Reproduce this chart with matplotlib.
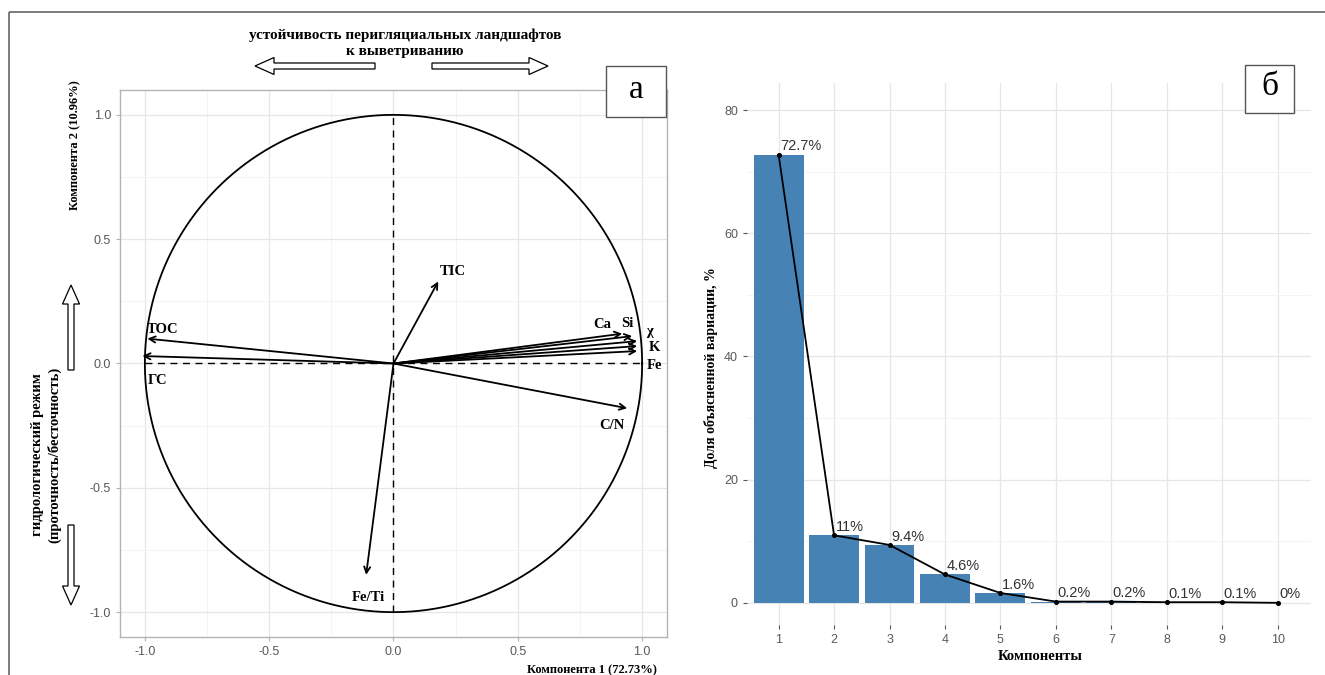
import matplotlib
matplotlib.use("Agg")
import matplotlib.pyplot as plt
import numpy as np
from matplotlib.patches import FancyArrow, Rectangle

# PCA loadings (component 1, component 2)
variables = ["TOC", "ГС", "TIC", "Fe/Ti", "C/N", "Ca", "Si", "χ", "K", "Fe"]
pc1 = [-0.99, -1.01, 0.18, -0.11, 0.94, 0.92, 0.96, 0.98, 0.98, 0.98]
pc2 = [0.10, 0.03, 0.33, -0.85, -0.18, 0.12, 0.11, 0.09, 0.07, 0.05]

# scree data
components = [1, 2, 3, 4, 5, 6, 7, 8, 9, 10]
explained = [72.73, 10.96, 9.4, 4.6, 1.6, 0.2, 0.2, 0.1, 0.1, 0.0]
explained_labels = ["72.7%", "11%", "9.4%", "4.6%", "1.6%", "0.2%", "0.2%", "0.1%", "0.1%", "0%"]

# label offsets from the arrow tips (styling only)
label_offset = {"TOC": (0.06, 0.035), "ГС": (0.06, -0.10), "TIC": (0.06, 0.04),
                "Fe/Ti": (0.01, -0.09), "C/N": (-0.06, -0.07), "Ca": (-0.08, 0.035),
                "Si": (-0.02, 0.05), "χ": (0.05, 0.04), "K": (0.07, -0.005), "Fe": (0.07, -0.06)}

W, H = 1325, 675
fig = plt.figure(figsize=(W / 100, H / 100), dpi=100)

serif = "Liberation Serif"
sans = "Liberation Sans"
tick_col = "#595959"
grid_major = "#E6E6E6"
grid_minor = "#F2F2F2"


def px(l, t, r, b):
    return [l / W, 1 - b / H, (r - l) / W, (b - t) / H]


# ---- panel a: correlation circle ----
ax1 = fig.add_axes(px(120, 90, 667, 637))
ax1.set_xlim(-1.1, 1.1)
ax1.set_ylim(-1.1, 1.1)
ax1.set_aspect("equal", adjustable="box")
ticks = [-1.0, -0.5, 0.0, 0.5, 1.0]
ax1.set_xticks(ticks)
ax1.set_yticks(ticks)
ax1.set_xticks([-0.75, -0.25, 0.25, 0.75], minor=True)
ax1.set_yticks([-0.75, -0.25, 0.25, 0.75], minor=True)
ax1.set_xticklabels(["-1.0", "-0.5", "0.0", "0.5", "1.0"])
ax1.set_yticklabels(["-1.0", "-0.5", "0.0", "0.5", "1.0"])
ax1.grid(which="major", color=grid_major, lw=0.9)
ax1.grid(which="minor", color=grid_minor, lw=0.6)
ax1.set_axisbelow(True)
for s in ax1.spines.values():
    s.set_color("#B3B3B3")
    s.set_linewidth(1)
ax1.tick_params(which="major", length=3, color="#B3B3B3", labelsize=9, labelcolor=tick_col)
ax1.tick_params(which="minor", length=0)
for lab in ax1.get_xticklabels() + ax1.get_yticklabels():
    lab.set_fontfamily(sans)

t = np.linspace(0, 2 * np.pi, 400)
ax1.plot(np.cos(t), np.sin(t), color="black", lw=1.3)
ax1.plot([-1, 1], [0, 0], color="black", lw=1, ls=(0, (5, 4)))
ax1.plot([0, 0], [-1, 1], color="black", lw=1, ls=(0, (5, 4)))

for name, x, y in zip(variables, pc1, pc2):
    ax1.annotate("", xy=(x, y), xytext=(0, 0),
                 arrowprops=dict(arrowstyle="->", color="black", lw=1.3,
                                 shrinkA=0, shrinkB=0, mutation_scale=11))
    dx, dy = label_offset[name]
    ax1.text(x + dx, y + dy, name, fontfamily=serif, fontweight="bold",
             fontsize=10.5, ha="center", va="center")

# ---- panel b: scree plot ----
ax2 = fig.add_axes(px(747, 83, 1311, 625))
ax2.bar(components, explained, width=0.9, color="#4682B4", zorder=2)
ax2.plot(components, explained, color="black", lw=1.3, zorder=3)
ax2.scatter(components, explained, color="black", s=7, zorder=4)
for x, y, lab in zip(components, explained, explained_labels):
    ax2.annotate(lab, (x, y), xytext=(1, 1), textcoords="offset points",
                 ha="left", va="bottom", fontsize=10.5, color="#333333",
                 fontfamily=sans, zorder=5)
ax2.set_xlim(0.43, 10.6)
ax2.set_ylim(-3.6, 84.4)
ax2.set_xticks(components)
ax2.set_yticks([0, 20, 40, 60, 80])
ax2.set_yticks([10, 30, 50, 70], minor=True)
ax2.grid(which="major", color=grid_major, lw=0.9)
ax2.grid(which="minor", axis="y", color=grid_minor, lw=0.6)
ax2.set_axisbelow(True)
for s in ax2.spines.values():
    s.set_visible(False)
ax2.tick_params(which="major", length=3, color="#555555", labelsize=9, labelcolor=tick_col)
ax2.tick_params(which="minor", length=0)
for lab in ax2.get_xticklabels() + ax2.get_yticklabels():
    lab.set_fontfamily(sans)

# ---- overlay in pixel coordinates for annotations ----
ov = fig.add_axes([0, 0, 1, 1], zorder=10)
ov.set_xlim(0, W)
ov.set_ylim(H, 0)
ov.axis("off")
ov.patch.set_alpha(0)

ov.add_patch(Rectangle((9, 12), W + 10, H + 10, fill=False, ec="#666666", lw=1.2))

bold = dict(fontfamily=serif, fontweight="bold", color="black")
ov.text(405, 35, "устойчивость перигляциальных ландшафтов", ha="center", va="center",
        fontsize=11, **bold)
ov.text(405, 51, "к выветриванию", ha="center", va="center", fontsize=11, **bold)
ov.text(46, 455, "гидрологический режим\n(проточность/бесточность)", ha="center",
        va="center", rotation=90, fontsize=10.5, linespacing=1.25, **bold)
ov.text(75, 145, "Компонента 2 (10.96%)", ha="center", va="center", rotation=90,
        fontsize=9, **bold)
ov.text(592, 670, "Компонента 1 (72.73%)", ha="center", va="center", fontsize=9, **bold)
ov.text(711, 368, "Доля объясненной вариации, %", ha="center", va="center",
        rotation=90, fontsize=10, **bold)
ov.text(1040, 656, "Компоненты", ha="center", va="center", fontsize=10.5, **bold)

arrow_kw = dict(width=6, head_width=17, head_length=19, length_includes_head=True,
                fc="white", ec="black", lw=0.9)
ov.add_patch(FancyArrow(375, 66, -120, 0, **arrow_kw))
ov.add_patch(FancyArrow(432, 66, 116, 0, **arrow_kw))
ov.add_patch(FancyArrow(71, 370, 0, -85, **arrow_kw))
ov.add_patch(FancyArrow(71, 525, 0, 80, **arrow_kw))

for (l, tp, r, b), letter in [((606, 66, 666, 117), "а"), ((1245, 65, 1294, 113), "б")]:
    ov.add_patch(Rectangle((l, tp), r - l, b - tp, fc="white", ec="#555555", lw=1))
    ov.text((l + r) / 2, (tp + b) / 2 - 2, letter, ha="center", va="center",
            fontsize=24, fontfamily=serif, color="black")

fig.savefig("out.png", dpi=100)
